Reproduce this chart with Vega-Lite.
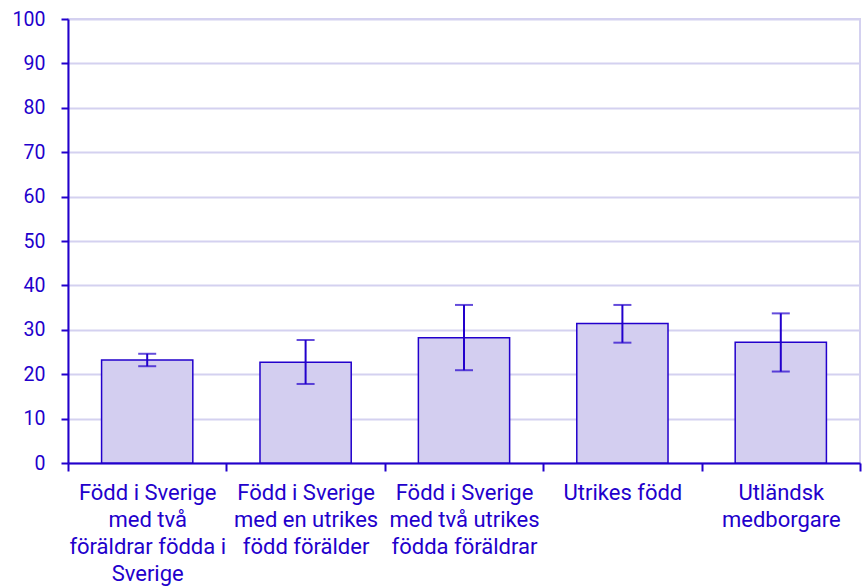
{
  "$schema": "https://vega.github.io/schema/vega-lite/v6.json",
  "width": 792,
  "height": 444,
  "autosize": {"type": "none"},
  "padding": {"left": 68, "top": 19, "right": 2, "bottom": 124},
  "background": "white",
  "config": {
    "font": "Roboto",
    "view": {"stroke": "#d4d1f0", "strokeWidth": 2},
    "axis": {
      "labelFont": "Roboto",
      "labelColor": "#2200cc",
      "domainColor": "#2200cc",
      "tickColor": "#2200cc",
      "domainWidth": 2,
      "tickWidth": 2,
      "title": null
    }
  },
  "data": {
    "values": [
      {"kategori": "Född i Sverige|med två|föräldrar födda i|Sverige", "andel": 23.2, "lag": 21.8, "hog": 24.6, "ordning": 1},
      {"kategori": "Född i Sverige|med en utrikes|född förälder", "andel": 22.7, "lag": 17.8, "hog": 27.7, "ordning": 2},
      {"kategori": "Född i Sverige|med två utrikes|födda föräldrar", "andel": 28.2, "lag": 20.9, "hog": 35.6, "ordning": 3},
      {"kategori": "Utrikes född", "andel": 31.4, "lag": 27.1, "hog": 35.6, "ordning": 4},
      {"kategori": "Utländsk|medborgare", "andel": 27.2, "lag": 20.6, "hog": 33.7, "ordning": 5}
    ]
  },
  "encoding": {
    "x": {
      "field": "kategori",
      "type": "nominal",
      "sort": {"field": "ordning"},
      "scale": {"paddingInner": 0, "paddingOuter": 0},
      "axis": {
        "labelAngle": 0,
        "labelExpr": "split(datum.label, '|')",
        "labelFontSize": 22,
        "labelLineHeight": 27,
        "labelPadding": 11,
        "labelBaseline": "top",
        "tickBand": "extent",
        "tickSize": 8,
        "grid": false,
        "labelLimit": 200
      }
    }
  },
  "layer": [
    {
      "mark": {"type": "bar", "fill": "#d3cef0", "stroke": "#2200cc", "strokeWidth": 1.5, "width": {"band": 0.576}},
      "encoding": {
        "y": {
          "field": "andel",
          "type": "quantitative",
          "scale": {"domain": [0, 100]},
          "axis": {
            "values": [0, 10, 20, 30, 40, 50, 60, 70, 80, 90, 100],
            "labelFontSize": 19.5,
            "tickSize": 7,
            "labelPadding": 16,
            "gridColor": "#d4d1f0",
            "gridWidth": 2
          }
        }
      }
    },
    {
      "mark": {"type": "rule", "color": "#2200cc", "strokeWidth": 2},
      "encoding": {
        "y": {"field": "lag", "type": "quantitative"},
        "y2": {"field": "hog"}
      }
    },
    {
      "mark": {"type": "tick", "color": "#2200cc", "thickness": 2, "size": 18},
      "encoding": {"y": {"field": "lag", "type": "quantitative"}}
    },
    {
      "mark": {"type": "tick", "color": "#2200cc", "thickness": 2, "size": 18},
      "encoding": {"y": {"field": "hog", "type": "quantitative"}}
    }
  ]
}
